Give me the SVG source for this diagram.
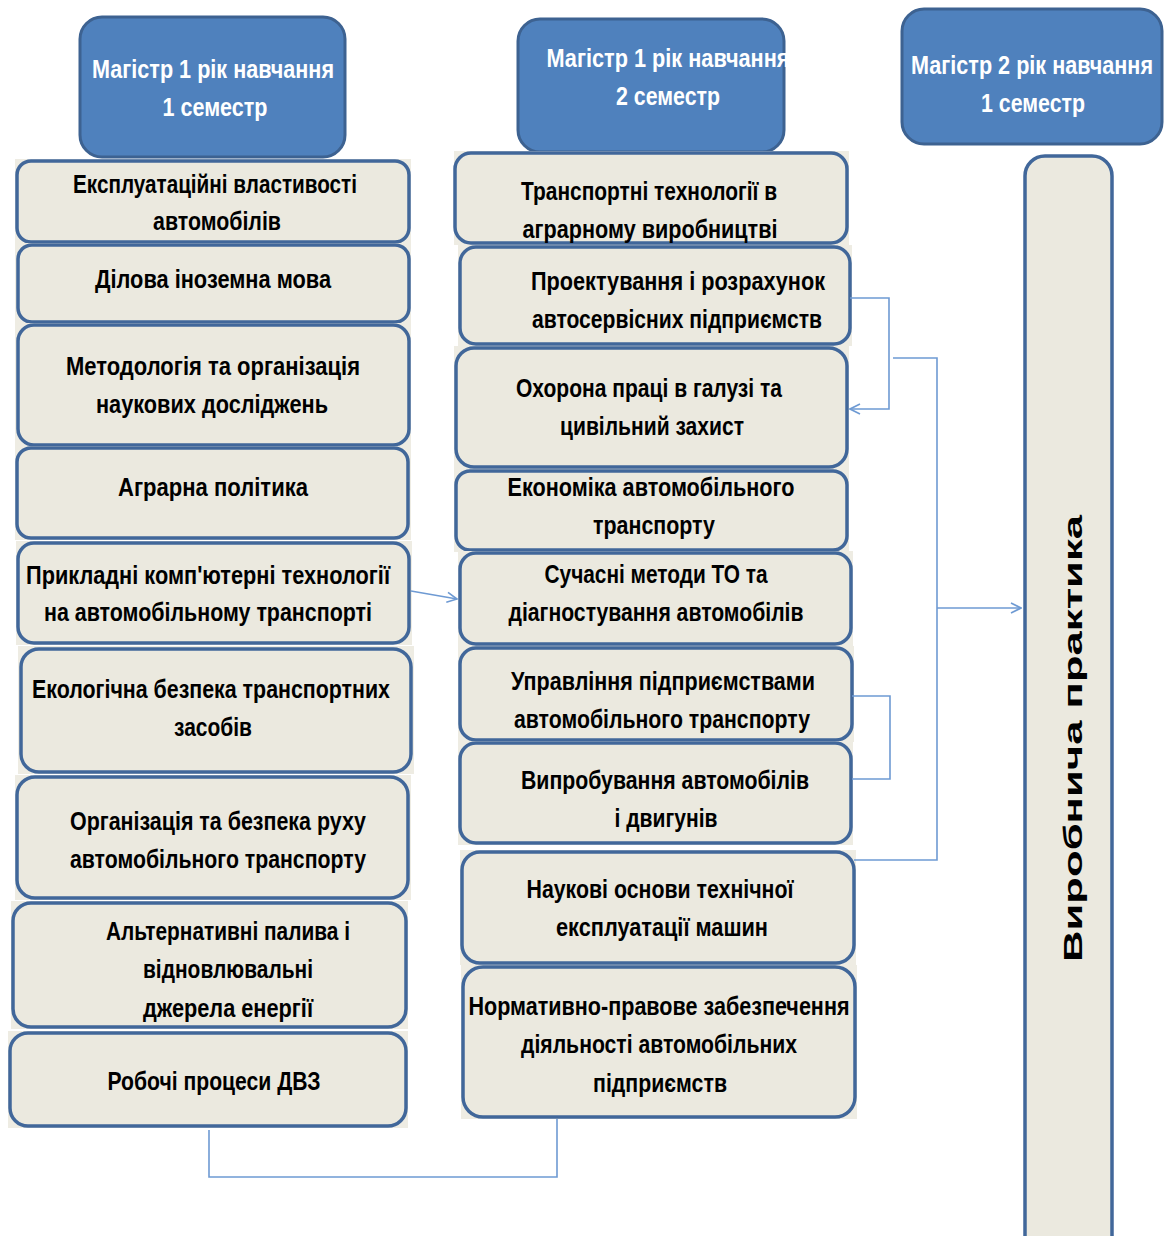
<svg xmlns="http://www.w3.org/2000/svg" width="1164" height="1236" viewBox="0 0 1164 1236">
<style>
.hdr rect{fill:#4f81bd;stroke:#3d6291;stroke-width:3}
.hdr text{fill:#ffffff;font-family:"Liberation Sans Narrow","Liberation Sans",Arial,sans-serif;font-weight:bold;font-size:26px;text-anchor:middle}
.node .bg{fill:#eeece3;stroke:none}
.node .box{fill:#ebe9df;stroke:#41679a;stroke-width:3.5}
.node text{fill:#000000;font-family:"Liberation Sans Narrow","Liberation Sans",Arial,sans-serif;font-weight:bold;font-size:26px;text-anchor:middle}
.conn{fill:none;stroke:#6e9ad3;stroke-width:1.6}
.vt{fill:#000000;font-family:"Liberation Sans",Arial,sans-serif;font-size:42px;text-anchor:middle}
</style>
<defs>
<marker id="arr" viewBox="0 0 12 12" refX="11" refY="6" markerWidth="12" markerHeight="12" markerUnits="userSpaceOnUse" orient="auto">
<path d="M1,1 L11,6 L1,11" fill="none" stroke="#6e9ad3" stroke-width="1.6"/>
</marker>
</defs>
<rect width="1164" height="1236" fill="#ffffff"/>

<g id="h1" class="hdr"><rect x="80" y="17" width="265" height="140" rx="22"/>
<text x="213" y="78" textLength="242" lengthAdjust="spacingAndGlyphs">Магістр 1 рік навчання</text>
<text x="215" y="116" textLength="105" lengthAdjust="spacingAndGlyphs">1 семестр</text></g>
<g id="h2" class="hdr"><rect x="518" y="19" width="266" height="133" rx="22"/>
<text x="668" y="67" textLength="243" lengthAdjust="spacingAndGlyphs">Магістр 1 рік навчання</text>
<text x="668" y="105" textLength="104" lengthAdjust="spacingAndGlyphs">2 семестр</text></g>
<g id="h3" class="hdr"><rect x="902" y="9" width="260" height="135" rx="22"/>
<text x="1032" y="74" textLength="242" lengthAdjust="spacingAndGlyphs">Магістр 2 рік навчання</text>
<text x="1033" y="112" textLength="104" lengthAdjust="spacingAndGlyphs">1 семестр</text></g>

<!-- left column -->
<g id="l1" class="node"><rect class="bg" x="15" y="159" width="396" height="85"/><rect class="box" x="17" y="161" width="392" height="81" rx="14"/>
<text x="215" y="193" textLength="284" lengthAdjust="spacingAndGlyphs">Експлуатаційні властивості</text>
<text x="217" y="230" textLength="128" lengthAdjust="spacingAndGlyphs">автомобілів</text></g>
<g id="l2" class="node"><rect class="bg" x="15" y="243" width="396" height="81"/><rect class="box" x="18" y="245" width="391" height="77" rx="14"/>
<text x="213" y="288" textLength="236" lengthAdjust="spacingAndGlyphs">Ділова іноземна мова</text></g>
<g id="l3" class="node"><rect class="bg" x="15" y="323" width="396" height="124"/><rect class="box" x="18" y="325" width="391" height="120" rx="16"/>
<text x="213" y="375" textLength="294" lengthAdjust="spacingAndGlyphs">Методологія  та організація</text>
<text x="212" y="413" textLength="232" lengthAdjust="spacingAndGlyphs">наукових досліджень</text></g>
<g id="l4" class="node"><rect class="bg" x="15" y="446" width="396" height="94"/><rect class="box" x="17" y="448" width="391" height="90" rx="14"/>
<text x="213" y="496" textLength="190" lengthAdjust="spacingAndGlyphs">Аграрна  політика</text></g>
<g id="l5" class="node"><rect class="bg" x="16" y="541" width="396" height="104"/><rect class="box" x="18" y="543" width="391" height="100" rx="16"/>
<text x="208" y="584" textLength="364" lengthAdjust="spacingAndGlyphs">Прикладні комп'ютерні технології</text>
<text x="208" y="621" textLength="328" lengthAdjust="spacingAndGlyphs">на автомобільному транспорті</text></g>
<g id="l6" class="node"><rect class="bg" x="18" y="646" width="396" height="128"/><rect class="box" x="21" y="649" width="390" height="123" rx="18"/>
<text x="211" y="698" textLength="358" lengthAdjust="spacingAndGlyphs">Екологічна безпека транспортних</text>
<text x="213" y="736" textLength="78" lengthAdjust="spacingAndGlyphs">засобів</text></g>
<g id="l7" class="node"><rect class="bg" x="15" y="775" width="396" height="125"/><rect class="box" x="17" y="777" width="391" height="121" rx="18"/>
<text x="218" y="830" textLength="296" lengthAdjust="spacingAndGlyphs">Організація та безпека руху</text>
<text x="218" y="868" textLength="296" lengthAdjust="spacingAndGlyphs">автомобільного транспорту</text></g>
<g id="l8" class="node"><rect class="bg" x="11" y="901" width="397" height="128"/><rect class="box" x="13" y="903" width="393" height="124" rx="18"/>
<text x="228" y="940" textLength="244" lengthAdjust="spacingAndGlyphs">Альтернативні палива і</text>
<text x="228" y="978" textLength="170" lengthAdjust="spacingAndGlyphs">відновлювальні</text>
<text x="228" y="1017" textLength="170" lengthAdjust="spacingAndGlyphs">джерела енергії</text></g>
<g id="l9" class="node"><rect class="bg" x="8" y="1031" width="400" height="97"/><rect class="box" x="10" y="1033" width="396" height="93" rx="18"/>
<text x="214" y="1090" textLength="213" lengthAdjust="spacingAndGlyphs">Робочі процеси ДВЗ</text></g>

<!-- middle column -->
<g id="m1" class="node"><rect class="bg" x="454" y="151" width="395" height="94"/><rect class="box" x="455" y="153" width="392" height="90" rx="16"/>
<text x="649" y="200" textLength="256" lengthAdjust="spacingAndGlyphs">Транспортні технології в</text>
<text x="650" y="238" textLength="255" lengthAdjust="spacingAndGlyphs">аграрному виробництві</text></g>
<g id="m2" class="node"><rect class="bg" x="458" y="245" width="394" height="101"/><rect class="box" x="460" y="247" width="390" height="97" rx="16"/>
<text x="678" y="290" textLength="294" lengthAdjust="spacingAndGlyphs">Проектування і розрахунок</text>
<text x="677" y="328" textLength="290" lengthAdjust="spacingAndGlyphs">автосервісних підприємств</text></g>
<g id="m3" class="node"><rect class="bg" x="454" y="346" width="395" height="123"/><rect class="box" x="456" y="348" width="391" height="119" rx="18"/>
<text x="649" y="397" textLength="266" lengthAdjust="spacingAndGlyphs">Охорона праці в галузі та</text>
<text x="652" y="435" textLength="184" lengthAdjust="spacingAndGlyphs">цивільний захист</text></g>
<g id="m4" class="node"><rect class="bg" x="454" y="469" width="395" height="83"/><rect class="box" x="456" y="471" width="391" height="79" rx="14"/>
<text x="651" y="496" textLength="287" lengthAdjust="spacingAndGlyphs">Економіка автомобільного</text>
<text x="654" y="534" textLength="122" lengthAdjust="spacingAndGlyphs">транспорту</text></g>
<g id="m5" class="node"><rect class="bg" x="458" y="551" width="395" height="95"/><rect class="box" x="460" y="553" width="391" height="91" rx="16"/>
<text x="656" y="583" textLength="223" lengthAdjust="spacingAndGlyphs">Сучасні методи ТО та</text>
<text x="656" y="621" textLength="295" lengthAdjust="spacingAndGlyphs">діагностування автомобілів</text></g>
<g id="m6" class="node"><rect class="bg" x="458" y="646" width="396" height="96"/><rect class="box" x="460" y="648" width="392" height="92" rx="16"/>
<text x="663" y="690" textLength="304" lengthAdjust="spacingAndGlyphs">Управління підприємствами</text>
<text x="662" y="728" textLength="296" lengthAdjust="spacingAndGlyphs">автомобільного транспорту</text></g>
<g id="m7" class="node"><rect class="bg" x="458" y="741" width="395" height="104"/><rect class="box" x="460" y="743" width="391" height="100" rx="16"/>
<text x="665" y="789" textLength="288" lengthAdjust="spacingAndGlyphs">Випробування автомобілів</text>
<text x="666" y="827" textLength="103" lengthAdjust="spacingAndGlyphs">і двигунів</text></g>
<g id="m8" class="node"><rect class="bg" x="460" y="850" width="396" height="115"/><rect class="box" x="462" y="852" width="392" height="111" rx="18"/>
<text x="660" y="898" textLength="267" lengthAdjust="spacingAndGlyphs">Наукові основи технічної</text>
<text x="662" y="936" textLength="212" lengthAdjust="spacingAndGlyphs">експлуатації машин</text></g>
<g id="m9" class="node"><rect class="bg" x="461" y="965" width="396" height="154"/><rect class="box" x="463" y="967" width="392" height="150" rx="20"/>
<text x="659" y="1015" textLength="381" lengthAdjust="spacingAndGlyphs">Нормативно-правове забезпечення</text>
<text x="659" y="1053" textLength="276" lengthAdjust="spacingAndGlyphs">діяльності автомобільних</text>
<text x="660" y="1092" textLength="134" lengthAdjust="spacingAndGlyphs">підприємств</text></g>

<!-- right vertical box -->
<g id="r1" class="node"><rect class="box" x="1025" y="156" width="87" height="1100" rx="20"/>
<text class="vt" transform="translate(1082,738.5) rotate(-90)" textLength="447" lengthAdjust="spacingAndGlyphs">Виробнича  практика</text></g>

<g id="connectors">
<path class="conn" d="M411,591 L457,599" marker-end="url(#arr)"/>
<path class="conn" d="M850,298 H889 V409 H850" marker-end="url(#arr)"/>
<path class="conn" d="M893,358 H937 V860 H854"/>
<path class="conn" d="M937,608 H1021" marker-end="url(#arr)"/>
<path class="conn" d="M852,696 H890 V779 H852"/>
<path class="conn" d="M209,1130 V1177 H557 V1119"/>
</g>
</svg>
